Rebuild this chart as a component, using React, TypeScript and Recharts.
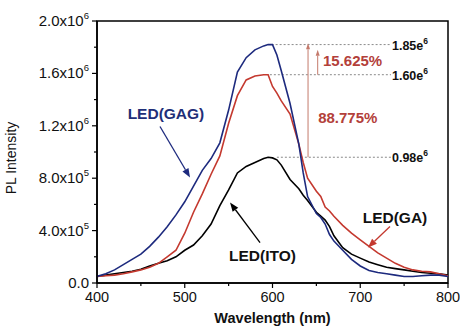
import React from 'react';
import { LineChart, Line, XAxis, YAxis, ReferenceLine, ReferenceDot, ReferenceArea } from 'recharts';

const FONT = '"Liberation Sans", Arial, Helvetica, sans-serif';

// wavelength (nm)
const wavelengths = [400, 410, 420, 430, 440, 450, 460, 470, 480, 490, 500, 510, 520, 530, 540, 550, 560, 570, 580, 590, 595, 600, 605, 610, 620, 630, 635, 640, 650, 655, 660, 665, 670, 680, 690, 700, 710, 720, 730, 740, 750, 760, 770, 780, 790, 800];
// PL intensity in units of 10^6
const ledGAG = [0.05, 0.07, 0.10, 0.14, 0.18, 0.22, 0.28, 0.35, 0.43, 0.52, 0.62, 0.74, 0.86, 0.95, 1.07, 1.32, 1.61, 1.72, 1.78, 1.81, 1.82, 1.82, 1.74, 1.62, 1.37, 1.06, 0.84, 0.66, 0.53, 0.50, 0.45, 0.37, 0.32, 0.25, 0.18, 0.13, 0.095, 0.08, 0.07, 0.06, 0.05, 0.05, 0.055, 0.06, 0.06, 0.05];
const ledGA = [0.05, 0.055, 0.06, 0.07, 0.085, 0.10, 0.12, 0.15, 0.20, 0.25, 0.38, 0.54, 0.68, 0.83, 0.97, 1.22, 1.43, 1.55, 1.58, 1.59, 1.59, 1.50, 1.45, 1.39, 1.29, 1.06, 0.92, 0.80, 0.70, 0.66, 0.58, 0.55, 0.51, 0.44, 0.38, 0.33, 0.28, 0.23, 0.19, 0.15, 0.12, 0.10, 0.09, 0.085, 0.07, 0.055];
const ledITO = [0.05, 0.06, 0.07, 0.08, 0.09, 0.105, 0.13, 0.15, 0.17, 0.20, 0.25, 0.29, 0.36, 0.45, 0.59, 0.71, 0.84, 0.89, 0.92, 0.95, 0.96, 0.955, 0.94, 0.90, 0.79, 0.72, 0.67, 0.63, 0.54, 0.51, 0.48, 0.43, 0.36, 0.27, 0.22, 0.19, 0.16, 0.14, 0.12, 0.11, 0.10, 0.09, 0.08, 0.075, 0.07, 0.06];

const yMajorTicks = [0, 0.4, 0.8, 1.2, 1.6, 2.0];
const yMinorTicks = [0.2, 0.6, 1.0, 1.4, 1.8];
const yTickMantissa = ['0.0', '4.0', '8.0', '1.2', '1.6', '2.0'];
const yTickExponent = ['', '5', '5', '6', '6', '6'];
const xMajorTicks = [400, 500, 600, 700, 800];
const xMinorTicks = [450, 550, 650, 750];

// peak reference levels
const peakLevels = [1.82, 1.59, 0.96];
const peakStarts = [599, 597, 605];
const peakEnd = 735;
const peakLabels = ['1.85e', '1.60e', '0.98e'];

const data = wavelengths.map((w, i) => ({ w, gag: ledGAG[i], ga: ledGA[i], ito: ledITO[i] }));

const BLUE = '#1d2a7e';
const RED = '#c4392f';
const PCT = '#b3403a';
const VARROW = '#c47a6c';

const YTick = (props: any) => {
  const { x, y, payload } = props;
  const v = payload.value;
  const idx = yMajorTicks.findIndex((t) => Math.abs(t - v) < 1e-6);
  const major = idx >= 0;
  return (
    <g>
      <line x1={x - (major ? 5 : 3)} x2={x} y1={y} y2={y} stroke="#000" strokeWidth={1.2} />
      {major && (
        <text x={x - 8} y={y + 5} textAnchor="end" fontSize={15} fill="#111" fontFamily={FONT}>
          {yTickMantissa[idx]}
          {yTickExponent[idx] ? 'x10' : ''}
          {yTickExponent[idx] ? (
            <tspan dy={-7} fontSize={9.5}>
              {yTickExponent[idx]}
            </tspan>
          ) : null}
        </text>
      )}
    </g>
  );
};

const XTick = (props: any) => {
  const { x, y, payload } = props;
  const v = payload.value;
  const major = xMajorTicks.includes(v);
  return (
    <g>
      <line x1={x} x2={x} y1={y} y2={y + (major ? 5 : 3)} stroke="#000" strokeWidth={1.2} />
      {major && (
        <text x={x} y={y + 19} textAnchor="middle" fontSize={14.5} fill="#111" fontFamily={FONT}>
          {v}
        </text>
      )}
    </g>
  );
};

const arrowShape = (color: string, width: number, headLen: number, headHalf: number) => (p: any) => {
  const { x1, y1, x2, y2 } = p;
  const dx = x2 - x1;
  const dy = y2 - y1;
  const len = Math.sqrt(dx * dx + dy * dy) || 1;
  const ux = dx / len;
  const uy = dy / len;
  const bx = x2 - ux * headLen;
  const by = y2 - uy * headLen;
  const px = -uy * headHalf;
  const py = ux * headHalf;
  return (
    <g>
      <line x1={x1} y1={y1} x2={bx} y2={by} stroke={color} strokeWidth={width} />
      <polygon points={`${x2},${y2} ${bx + px},${by + py} ${bx - px},${by - py}`} fill={color} />
    </g>
  );
};

const textShape = (text: string, color: string, size: number, anchor: string, bold = true) => (p: any) => (
  <text x={p.cx} y={p.cy} textAnchor={anchor as any} fontSize={size} fontWeight={bold ? 'bold' : 'normal'} fill={color} fontFamily={FONT}>
    {text}
  </text>
);

const peakLabelShape = (text: string) => (p: any) => (
  <text x={p.cx + 1} y={p.cy + 5} fontSize={12.5} fontWeight="bold" fill="#111" fontFamily={FONT}>
    {text}
    <tspan dy={-6} fontSize={8.5}>6</tspan>
  </text>
);

const XLabel = (p: any) => {
  const vb = p.viewBox;
  return (
    <text x={vb.x + vb.width / 2} y={vb.y + 40} textAnchor="middle" fontSize={14.5} fontWeight="bold" fill="#111" fontFamily={FONT}>
      Wavelength (nm)
    </text>
  );
};

const YLabel = (p: any) => {
  const vb = p.viewBox;
  const cx = 16;
  const cy = vb.y + vb.height / 2 + 6;
  return (
    <text x={cx} y={cy} transform={`rotate(-90 ${cx} ${cy})`} textAnchor="middle" fontSize={14} fill="#111" fontFamily={FONT}>
      PL Intensity
    </text>
  );
};

export default function App() {
  return (
    <div style={{ position: 'absolute', left: 0, top: 0, width: 460, height: 333, background: '#fff' }}>
      <LineChart width={460} height={333} data={data} margin={{ top: 21, right: 12, bottom: 0, left: 0 }}>
        <XAxis
          dataKey="w"
          type="number"
          domain={[400, 800]}
          ticks={[...xMajorTicks, ...xMinorTicks].sort((a, b) => a - b)}
          tick={<XTick />}
          tickSize={0}
          tickMargin={0}
          tickLine={false}
          axisLine={{ stroke: '#000', strokeWidth: 1.5 }}
          height={50}
          allowDataOverflow
          label={<XLabel />}
        />
        <YAxis
          type="number"
          domain={[0, 2]}
          ticks={[...yMajorTicks, ...yMinorTicks].sort((a, b) => a - b)}
          tick={<YTick />}
          tickSize={0}
          tickMargin={0}
          tickLine={false}
          axisLine={{ stroke: '#000', strokeWidth: 1.5 }}
          width={97}
          allowDataOverflow
          label={<YLabel />}
        />
        <ReferenceArea x1={400} x2={800} y1={0} y2={2} fill="none" fillOpacity={0} stroke="#000" strokeWidth={1.5} ifOverflow="visible" />

        {peakLevels.map((lv, i) => (
          <ReferenceLine
            key={'pk' + i}
            segment={[{ x: peakStarts[i], y: lv }, { x: peakEnd, y: lv }]}
            stroke="#8a8a8a"
            strokeWidth={1}
            strokeDasharray="2 2"
          />
        ))}
        {peakLevels.map((lv, i) => (
          <ReferenceDot key={'pl' + i} x={peakEnd} y={lv} r={1} shape={peakLabelShape(peakLabels[i])} />
        ))}

        <Line type="linear" dataKey="ito" stroke="#000" strokeWidth={1.6} dot={false} isAnimationActive={false} />
        <Line type="linear" dataKey="ga" stroke={RED} strokeWidth={1.6} dot={false} isAnimationActive={false} />
        <Line type="linear" dataKey="gag" stroke={BLUE} strokeWidth={1.6} dot={false} isAnimationActive={false} />

        <ReferenceLine segment={[{ x: 640.5, y: 0.96 }, { x: 640.5, y: 1.83 }]} shape={arrowShape(VARROW, 1, 6, 2)} />
        <ReferenceLine segment={[{ x: 651.5, y: 1.59 }, { x: 651.5, y: 1.78 }]} shape={arrowShape(VARROW, 1, 6, 2)} />
        <ReferenceLine segment={[{ x: 471.8, y: 1.195 }, { x: 506, y: 0.805 }]} shape={arrowShape(BLUE, 1.3, 9, 3.5)} />
        <ReferenceLine segment={[{ x: 585.8, y: 0.309 }, { x: 551.6, y: 0.614 }]} shape={arrowShape('#000', 1.3, 9, 3.5)} />
        <ReferenceLine segment={[{ x: 733.9, y: 0.431 }, { x: 708.8, y: 0.271 }]} shape={arrowShape(RED, 1.3, 9, 3.5)} />

        <ReferenceDot x={657.5} y={1.66} r={1} shape={textShape('15.625%', PCT, 15, 'start')} />
        <ReferenceDot x={652} y={1.22} r={1} shape={textShape('88.775%', PCT, 15, 'start')} />
        <ReferenceDot x={478.6} y={1.25} r={1} shape={textShape('LED(GAG)', '#1f2f78', 15.5, 'middle')} />
        <ReferenceDot x={588.6} y={0.168} r={1} shape={textShape('LED(ITO)', '#111', 15.5, 'middle')} />
        <ReferenceDot x={739.6} y={0.46} r={1} shape={textShape('LED(GA)', '#111', 15.5, 'middle')} />
      </LineChart>
    </div>
  );
}
